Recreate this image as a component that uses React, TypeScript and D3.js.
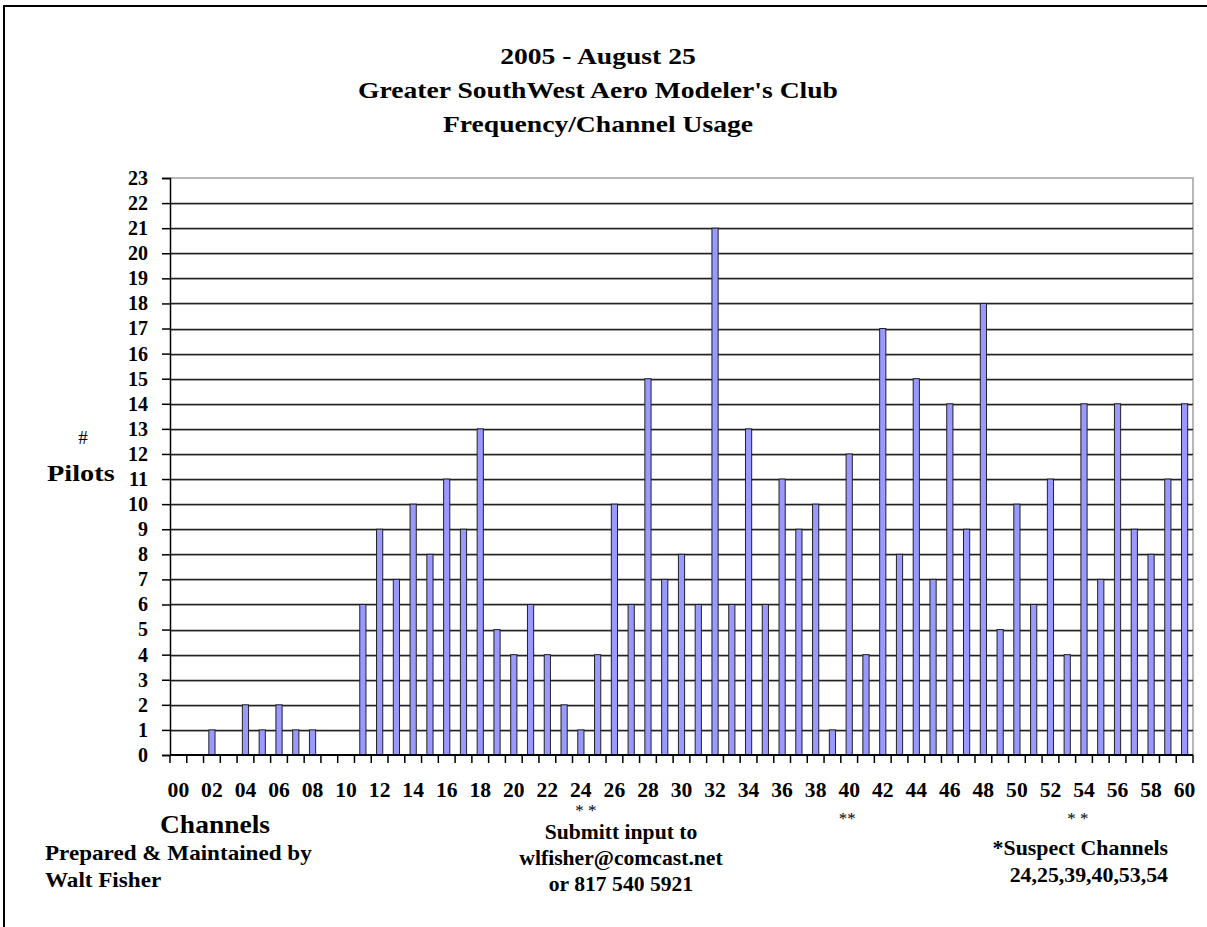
import React, { useEffect, useRef } from 'react';
import * as d3 from 'd3';

// channel numbers 00..60
const channels = d3.range(0, 61).map((c) => (c < 10 ? '0' + c : '' + c));

// pilots per channel
const pilots = [
  0, 0, 1, 0, 2, 1, 2, 1, 1, 0,
  0, 6, 9, 7, 10, 8, 11, 9, 13, 5,
  4, 6, 4, 2, 1, 4, 10, 6, 15, 7,
  8, 6, 21, 6, 13, 6, 11, 9, 10, 1,
  12, 4, 17, 8, 15, 7, 14, 9, 18, 5,
  10, 6, 11, 4, 14, 7, 14, 9, 8, 11,
  14,
];

const yTicks = d3.range(0, 24);
const titleLines = [
  '2005 - August 25',
  "Greater SouthWest Aero Modeler's Club",
  'Frequency/Channel Usage',
];
const submitLines = ['Submitt input to', 'wlfisher@comcast.net', 'or 817 540 5921'];
const preparedLines = ['Prepared & Maintained by', 'Walt Fisher'];
const suspectLines = ['*Suspect Channels', '24,25,39,40,53,54'];
const starMarks = ['24', '40', '54'];
const starText = ['* *', '**', '* *'];

const width = 1207;
const height = 927;
const left = 170;
const right = 1193;
const top = 178;
const bottom = 755;
const font = "'Liberation Serif', 'Times New Roman', serif";

// widen text a little, the old chart font runs wider than Times
const stretch = (sel: any, k: number) => {
  sel.each(function (this: SVGTextElement) {
    const w = this.getComputedTextLength();
    d3.select(this).attr('textLength', w * k).attr('lengthAdjust', 'spacingAndGlyphs');
  });
};

export default function App() {
  const ref = useRef<SVGSVGElement>(null);

  useEffect(() => {
    const svg = d3.select(ref.current);
    svg.selectAll('*').remove();

    const xScale = d3
      .scaleBand()
      .domain(channels)
      .range([left, right])
      .paddingInner(0.63)
      .paddingOuter(0.315);

    const yScale = d3.scaleLinear().domain([0, 23]).range([bottom, top]);

    // outer frame
    svg
      .append('path')
      .attr('d', `M4,${height} V6 H${width}`)
      .attr('fill', 'none')
      .attr('stroke', '#000')
      .attr('stroke-width', 2);

    // titles
    const titles = svg
      .append('g')
      .selectAll('text')
      .data(titleLines)
      .enter()
      .append('text')
      .attr('x', 598)
      .attr('y', (d, i) => [64, 98, 132][i])
      .attr('text-anchor', 'middle')
      .style('font-family', font)
      .style('font-weight', 'bold')
      .style('font-size', '24px')
      .text((d) => d);
    stretch(titles, 1.15);

    // plot border top/right (grey)
    svg
      .append('path')
      .attr('d', `M${left},${top} H${right} V${bottom}`)
      .attr('fill', 'none')
      .attr('stroke', '#a0a0a0')
      .attr('stroke-width', 1.5);

    // gridlines
    const grid = svg.append('g');
    const gridTicks = yTicks.filter((t) => t > 0 && t < 23);
    grid
      .selectAll('line.shadow')
      .data(gridTicks)
      .enter()
      .append('line')
      .attr('class', 'shadow')
      .attr('x1', left)
      .attr('x2', right)
      .attr('y1', (d) => Math.round(yScale(d)) + 1.5)
      .attr('y2', (d) => Math.round(yScale(d)) + 1.5)
      .attr('stroke', '#c8c8c8')
      .attr('stroke-width', 1);
    grid
      .selectAll('line.main')
      .data(gridTicks)
      .enter()
      .append('line')
      .attr('class', 'main')
      .attr('x1', left)
      .attr('x2', right)
      .attr('y1', (d) => Math.round(yScale(d)) + 0.5)
      .attr('y2', (d) => Math.round(yScale(d)) + 0.5)
      .attr('stroke', '#222')
      .attr('stroke-width', 1.3);

    // bars
    svg
      .append('g')
      .selectAll('rect')
      .data(pilots)
      .enter()
      .append('rect')
      .attr('x', (d, i) => xScale(channels[i]) as number)
      .attr('y', (d) => yScale(d))
      .attr('width', xScale.bandwidth())
      .attr('height', (d) => bottom - yScale(d))
      .attr('fill', '#9999ff')
      .attr('stroke', '#222')
      .attr('stroke-width', 1);

    // y axis
    const yAxis = d3.axisLeft(yScale).tickValues(yTicks).tickSize(8).tickPadding(14);
    const gy = svg
      .append('g')
      .attr('transform', `translate(${left},0)`)
      .call(yAxis);
    gy.select('.domain').attr('stroke', '#000').attr('stroke-width', 1.5);
    gy.selectAll('.tick line').attr('stroke', '#000').attr('stroke-width', 1.5);
    gy.selectAll('.tick text')
      .style('font-family', font)
      .style('font-weight', 'bold')
      .style('font-size', '20px')
      .attr('fill', '#000');

    // x axis: ticks at category boundaries, labels every other channel
    const step = xScale.step();
    const gx = svg.append('g');
    gx.append('line')
      .attr('x1', left)
      .attr('x2', right)
      .attr('y1', bottom)
      .attr('y2', bottom)
      .attr('stroke', '#000')
      .attr('stroke-width', 2);
    gx.selectAll('line.tk')
      .data(d3.range(0, channels.length + 1))
      .enter()
      .append('line')
      .attr('class', 'tk')
      .attr('x1', (d) => left + d * step)
      .attr('x2', (d) => left + d * step)
      .attr('y1', bottom)
      .attr('y2', bottom + 8)
      .attr('stroke', '#000')
      .attr('stroke-width', 1.5);
    const xl = gx
      .selectAll('text')
      .data(channels.filter((c, i) => i % 2 === 0))
      .enter()
      .append('text')
      .attr('x', (d) => (xScale(d) as number) + xScale.bandwidth() / 2)
      .attr('y', 797)
      .attr('text-anchor', 'middle')
      .style('font-family', font)
      .style('font-weight', 'bold')
      .style('font-size', '20px')
      .text((d) => d);
    stretch(xl, 1.08);

    // axis titles
    svg
      .append('text')
      .attr('x', 83)
      .attr('y', 444)
      .attr('text-anchor', 'middle')
      .style('font-family', font)
      .style('font-size', '19px')
      .text('#');
    const pl = svg
      .append('text')
      .attr('x', 47)
      .attr('y', 481)
      .style('font-family', font)
      .style('font-weight', 'bold')
      .style('font-size', '24px')
      .text('Pilots');
    stretch(pl, 1.18);
    const ch = svg
      .append('text')
      .attr('x', 160)
      .attr('y', 833)
      .style('font-family', font)
      .style('font-weight', 'bold')
      .style('font-size', '25px')
      .text('Channels');
    stretch(ch, 1.1);

    // star marks under suspect channels
    svg
      .append('g')
      .selectAll('text')
      .data(starMarks)
      .enter()
      .append('text')
      .attr('x', (d, i) => (xScale(d) as number) + xScale.bandwidth() / 2 + [5, -2, -6][i])
      .attr('y', (d, i) => (i === 0 ? 816 : 824))
      .attr('text-anchor', 'middle')
      .style('font-family', font)
      .style('font-size', '17px')
      .text((d, i) => starText[i]);

    const block = (lines: string[], x: number, ys: number[], anchor: string, k: number) => {
      const t = svg
        .append('g')
        .selectAll('text')
        .data(lines)
        .enter()
        .append('text')
        .attr('x', x)
        .attr('y', (d, i) => ys[i])
        .attr('text-anchor', anchor)
        .style('font-family', font)
        .style('font-weight', 'bold')
        .style('font-size', '21px')
        .text((d) => d);
      stretch(t, k);
    };

    block(preparedLines, 45, [860, 887], 'start', 1.1);
    block(submitLines, 621, [839, 865, 891], 'middle', 1.03);
    block(suspectLines, 1168, [855, 882], 'end', 1.04);
  }, []);

  return (
    <svg
      ref={ref}
      width={width}
      height={height}
      style={{ position: 'absolute', left: 0, top: 0, background: '#fff' }}
    />
  );
}
